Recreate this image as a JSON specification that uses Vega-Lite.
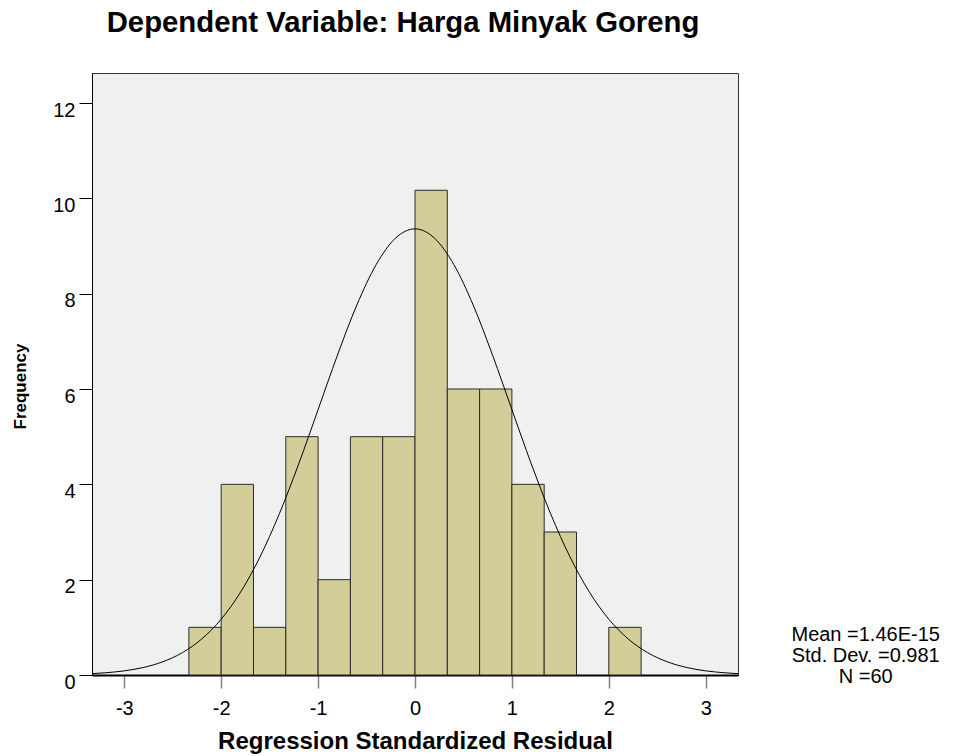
{
  "$schema": "https://vega.github.io/schema/vega-lite/v6.json",
  "width": 646,
  "height": 602,
  "autosize": "none",
  "padding": {"left": 92, "top": 73, "right": 215, "bottom": 81},
  "background": "white",
  "config": {
    "font": "Liberation Sans",
    "view": {"fill": "#F0F0F0", "stroke": "#333333", "strokeWidth": 1}
  },
  "title": {
    "text": "Dependent Variable: Harga Minyak Goreng",
    "font": "Liberation Sans",
    "fontSize": 29.3,
    "fontWeight": "bold",
    "color": "#000000",
    "anchor": "middle",
    "frame": "group",
    "baseline": "alphabetic",
    "offset": 12,
    "dx": -12
  },
  "layer": [
    {
      "data": {
        "values": [
          {"bin_start": -2.3333, "bin_end": -2.0, "count": 1},
          {"bin_start": -2.0, "bin_end": -1.6667, "count": 4},
          {"bin_start": -1.6667, "bin_end": -1.3333, "count": 1},
          {"bin_start": -1.3333, "bin_end": -1.0, "count": 5},
          {"bin_start": -1.0, "bin_end": -0.6667, "count": 2},
          {"bin_start": -0.6667, "bin_end": -0.3333, "count": 5},
          {"bin_start": -0.3333, "bin_end": 0.0, "count": 5},
          {"bin_start": 0.0, "bin_end": 0.3333, "count": 10.17},
          {"bin_start": 0.3333, "bin_end": 0.6667, "count": 6},
          {"bin_start": 0.6667, "bin_end": 1.0, "count": 6},
          {"bin_start": 1.0, "bin_end": 1.3333, "count": 4},
          {"bin_start": 1.3333, "bin_end": 1.6667, "count": 3},
          {"bin_start": 2.0, "bin_end": 2.3333, "count": 1}
        ]
      },
      "mark": {"type": "rect", "fill": "#D3CE99", "stroke": "#2A2A2A", "strokeWidth": 1},
      "encoding": {
        "x": {
          "field": "bin_start",
          "type": "quantitative",
          "scale": {"domain": [-3.3333, 3.3333], "nice": false, "zero": false},
          "axis": {
            "values": [-3, -2, -1, 0, 1, 2, 3],
            "labelExpr": "toString(datum.value)",
            "title": "Regression Standardized Residual",
            "titleFont": "Liberation Sans",
            "titleFontSize": 24,
            "titleFontWeight": "bold",
            "titleColor": "#000000",
            "titlePadding": 11,
            "labelFont": "Liberation Sans",
            "labelFontSize": 20,
            "labelColor": "#000000",
            "labelPadding": 10,
            "labelFlush": false,
            "labelOverlap": false,
            "tickSize": 13,
            "tickColor": "#808080",
            "tickWidth": 1.5,
            "domainColor": "#000000",
            "domainWidth": 2,
            "grid": false
          }
        },
        "x2": {"field": "bin_end"},
        "y": {
          "field": "count",
          "type": "quantitative",
          "scale": {"domain": [0, 12.63], "nice": false},
          "axis": {
            "values": [0, 2, 4, 6, 8, 10, 12],
            "labelExpr": "toString(datum.value)",
            "title": "Frequency",
            "titleFont": "Liberation Sans",
            "titleFontSize": 17,
            "titleFontWeight": "bold",
            "titleColor": "#000000",
            "titlePadding": 23,
            "titleY": 313,
            "labelFont": "Liberation Sans",
            "labelFontSize": 20,
            "labelColor": "#000000",
            "labelBaseline": "top",
            "labelOffset": -3,
            "labelPadding": 4,
            "labelFlush": false,
            "labelOverlap": false,
            "tickSize": 13,
            "tickColor": "#000000",
            "tickWidth": 1,
            "domainColor": "#000000",
            "domainWidth": 1,
            "grid": false
          }
        },
        "y2": {"datum": 0}
      }
    },
    {
      "data": {
        "values": [
          {"x": -3.3333, "density": 0.0291},
          {"x": -3.2, "density": 0.0458},
          {"x": -3.0, "density": 0.0872},
          {"x": -2.8, "density": 0.1593},
          {"x": -2.6, "density": 0.2793},
          {"x": -2.4, "density": 0.4695},
          {"x": -2.2, "density": 0.757},
          {"x": -2.0, "density": 1.171},
          {"x": -1.8, "density": 1.739},
          {"x": -1.6, "density": 2.476},
          {"x": -1.4, "density": 3.381},
          {"x": -1.2, "density": 4.43},
          {"x": -1.0, "density": 5.568},
          {"x": -0.8, "density": 6.712},
          {"x": -0.6, "density": 7.763},
          {"x": -0.4, "density": 8.613},
          {"x": -0.2, "density": 9.167},
          {"x": 0.0, "density": 9.36},
          {"x": 0.2, "density": 9.167},
          {"x": 0.4, "density": 8.613},
          {"x": 0.6, "density": 7.763},
          {"x": 0.8, "density": 6.712},
          {"x": 1.0, "density": 5.568},
          {"x": 1.2, "density": 4.43},
          {"x": 1.4, "density": 3.381},
          {"x": 1.6, "density": 2.476},
          {"x": 1.8, "density": 1.739},
          {"x": 2.0, "density": 1.171},
          {"x": 2.2, "density": 0.757},
          {"x": 2.4, "density": 0.4695},
          {"x": 2.6, "density": 0.2793},
          {"x": 2.8, "density": 0.1593},
          {"x": 3.0, "density": 0.0872},
          {"x": 3.2, "density": 0.0458},
          {"x": 3.3333, "density": 0.0291}
        ]
      },
      "mark": {"type": "line", "color": "#000000", "strokeWidth": 1, "interpolate": "monotone"},
      "encoding": {
        "x": {"field": "x", "type": "quantitative"},
        "y": {"field": "density", "type": "quantitative"}
      }
    },
    {
      "data": {
        "values": [
          {"label": "Mean =1.46E-15\nStd. Dev. =0.981\nN =60"}
        ]
      },
      "mark": {
        "type": "text",
        "font": "Liberation Sans",
        "fontSize": 20,
        "lineHeight": 21,
        "lineBreak": "\n",
        "align": "center",
        "baseline": "alphabetic",
        "color": "#000000"
      },
      "encoding": {
        "x": {"datum": 4.651},
        "y": {"datum": 0.72},
        "text": {"field": "label", "type": "nominal"}
      }
    }
  ]
}
